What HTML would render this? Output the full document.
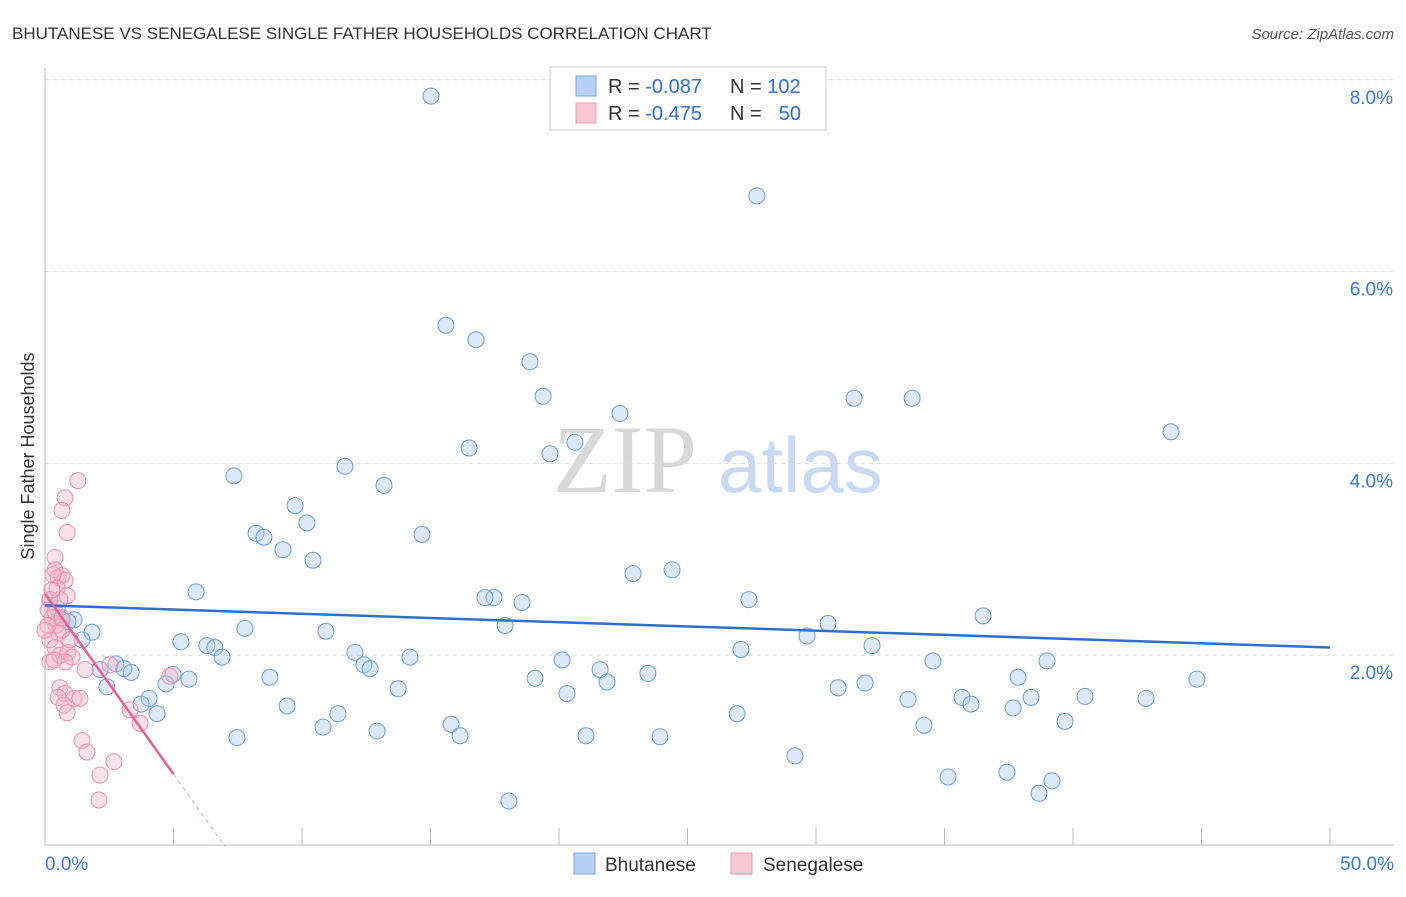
<!DOCTYPE html>
<html><head><meta charset="utf-8"><style>
body{margin:0;background:#fff;font-family:"Liberation Sans",sans-serif}
svg text{font-family:"Liberation Sans",sans-serif}
</style></head><body>
<svg id="c" width="1406" height="892" viewBox="0 0 1406 892">
<text x="12" y="39" font-size="17" fill="#333">BHUTANESE VS SENEGALESE SINGLE FATHER HOUSEHOLDS CORRELATION CHART</text>
<text x="1394" y="39" font-size="15" fill="#555" text-anchor="end" font-style="italic">Source: ZipAtlas.com</text>
<text x="34" y="456" font-size="18" fill="#333" text-anchor="middle" transform="rotate(-90 34 456)">Single Father Households</text>
<text x="553" y="492" font-size="96" fill="#d8d8d8" style="font-family:'Liberation Serif',serif">ZIP</text>
<text x="718" y="492" font-size="78" fill="#c9d9f2">atlas</text>
<g id="grid"></g><g id="pts"></g><g id="lines"></g>
<g>
<rect x="550" y="67" width="276" height="63" fill="#fff" stroke="#ccc"/>
<rect x="576" y="76" width="20" height="20" fill="#b7d0f3" stroke="#7aa6e3"/>
<text x="608" y="93" font-size="20" fill="#333">R = <tspan fill="#2f6fd6">-0.087</tspan></text>
<text x="730" y="93" font-size="20" fill="#333">N = <tspan fill="#2f6fd6">102</tspan></text>
<rect x="576" y="103" width="20" height="20" fill="#f9c6d4" stroke="#ee98b4"/>
<text x="608" y="120" font-size="20" fill="#333">R = <tspan fill="#2f6fd6">-0.475</tspan></text>
<text x="730" y="120" font-size="20" fill="#333">N = </text>
<text x="801" y="120" font-size="20" fill="#2f6fd6" text-anchor="end">50</text>
</g>
<g>
<rect x="574" y="853" width="21" height="21" fill="#b7d0f3" stroke="#7aa6e3"/>
<text x="605" y="871" font-size="19" fill="#333">Bhutanese</text>
<rect x="731" y="853" width="21" height="21" fill="#f9c6d4" stroke="#ee98b4"/>
<text x="763" y="871" font-size="19" fill="#333">Senegalese</text>
</g>
</svg>
<script>
const bluePx=[[431,96],[757,196],[446,325],[476,340],[530,362],[543,396],[854,398],[912,398],[620,414],[575,442],[469,448],[550,454],[1171,432],[234,476],[345,466],[384,485],[295,506],[307,523],[256,533],[264,537],[283,550],[313,560],[422,534],[196,592],[633,574],[672,570],[494,598],[485,598],[522,602],[749,600],[983,616],[505,625],[828,624],[807,636],[245,628],[326,631],[181,642],[207,646],[215,648],[222,657],[92,632],[82,640],[74,620],[62,620],[57,608],[741,649],[872,646],[1047,661],[933,661],[562,660],[355,652],[410,657],[364,665],[370,669],[116,664],[100,670],[131,672],[124,669],[173,674],[189,679],[600,670],[607,682],[648,673],[535,678],[270,677],[166,684],[107,687],[1018,677],[1197,679],[865,683],[838,688],[398,689],[567,694],[149,698],[141,704],[157,714],[287,706],[908,699],[962,697],[971,704],[1031,697],[1085,696],[1146,698],[1013,708],[338,714],[323,727],[451,724],[460,736],[377,731],[586,736],[660,737],[237,738],[737,714],[924,725],[1065,721],[795,756],[948,777],[1007,772],[1052,781],[1039,793],[509,801],[50,600],[68,622]];
const pinkPx=[[78,481],[65,498],[62,510],[67,532],[55,557],[55,570],[58,578],[62,576],[65,580],[53,575],[57,588],[67,596],[50,600],[48,610],[52,618],[56,625],[62,630],[58,633],[50,640],[55,648],[60,655],[68,652],[72,657],[50,662],[65,662],[85,670],[110,665],[60,688],[65,694],[58,697],[74,698],[80,698],[64,705],[67,713],[130,710],[140,723],[170,676],[82,741],[87,752],[114,762],[100,775],[99,800],[55,612],[60,600],[48,625],[52,590],[70,640],[45,630],[54,660],[62,618]];
const blueX=bluePx.map(p=>+((p[0]-45)/25.7).toFixed(2));
const blueY=bluePx.map(p=>+((847-p[1])/95.9).toFixed(2));
const pinkX=pinkPx.map(p=>+((p[0]-45)/25.7).toFixed(2));
const pinkY=pinkPx.map(p=>+((847-p[1])/95.9).toFixed(2));
const blueTrend=[2.52,2.08];
const pinkTrend=[2.64,-0.376];
const yTicks=[2,4,6,8];
const xTickLabels=["0.0%","50.0%"];
const sx=v=>45+v*25.7, sy=v=>847-v*95.9;
const NS="http://www.w3.org/2000/svg";
function mk(t,a,par){const e=document.createElementNS(NS,t);for(const k in a)e.setAttribute(k,a[k]);par.appendChild(e);return e;}
const g=document.getElementById('grid');
for(const t of yTicks){
 const l=mk('line',{x1:45,x2:1394,y1:sy(t),y2:sy(t),stroke:'#ddd','stroke-dasharray':'4,4'},g);
 
 
 const tx=mk('text',{x:1393,y:sy(t)+24,'font-size':19,fill:'#3b78d8','text-anchor':'end'},g);tx.textContent=t.toFixed(1)+'%';
 
 
}
mk('line',{x1:45,x2:45,y1:68,y2:845,stroke:'#bbb'},g);
mk('line',{x1:45,x2:1394,y1:845,y2:845,stroke:'#bbb'},g);
for(let i=0;i<=10;i++){mk('line',{x1:sx(i*5),x2:sx(i*5),y1:828,y2:845,stroke:'#bbb'},g);}
const xl1=mk('text',{x:45,y:870,'font-size':19,fill:'#3b78d8'},g);xl1.textContent=xTickLabels[0];


const xl2=mk('text',{x:1394,y:870,'font-size':19,fill:'#3b78d8','text-anchor':'end'},g);xl2.textContent=xTickLabels[1];


const P=document.getElementById('pts');
blueX.forEach((x,i)=>{const c=mk('circle',{cx:sx(x),cy:sy(blueY[i]),r:8,fill:'rgba(170,200,240,0.4)',stroke:'#6b9de0','stroke-width':1},P);
 
 });
pinkX.forEach((x,i)=>{const c=mk('circle',{cx:sx(x),cy:sy(pinkY[i]),r:8,fill:'rgba(246,180,200,0.4)',stroke:'#ec8fb0','stroke-width':1},P);
 
 });
const L=document.getElementById('lines');
const bl=mk('line',{x1:sx(0),y1:sy(blueTrend[0]),x2:sx(50),y2:sy(blueTrend[1]),stroke:'#2b6fd6','stroke-width':2.5},L);


const pl=mk('line',{x1:sx(0),y1:sy(pinkTrend[0]),x2:sx(5),y2:sy(pinkTrend[0]+pinkTrend[1]*5),stroke:'#e8608f','stroke-width':2.5},L);


const x0=-pinkTrend[0]/pinkTrend[1];
const pd=mk('line',{x1:sx(5),y1:sy(pinkTrend[0]+pinkTrend[1]*5),x2:sx(x0),y2:sy(0),stroke:'#e8a0b8','stroke-width':1,'stroke-dasharray':'4,4'},L);


</script>
</body></html>
